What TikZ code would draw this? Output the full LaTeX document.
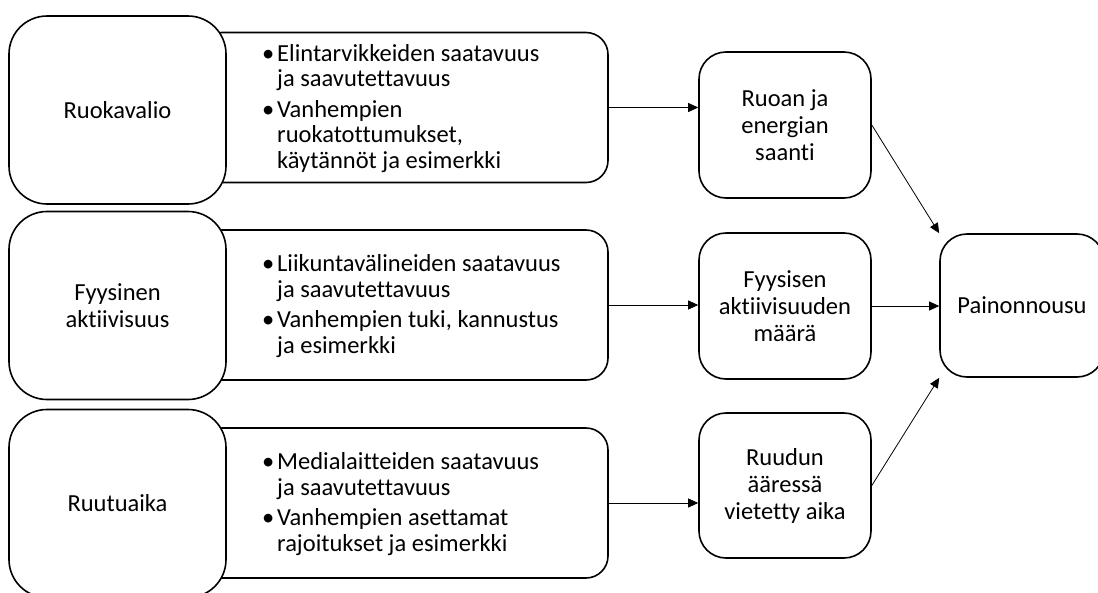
\documentclass[tikz,border=0pt]{standalone}
\usepackage{fontspec}
\setmainfont{Carlito}[Ligatures={NoCommon}]
\usetikzlibrary{arrows.meta}
\begin{document}
\begin{tikzpicture}[x=1pt,y=-1pt,
  txt/.style={font=\fontsize{24.5}{27}\selectfont},
  btxt/.style={font=\fontsize{24.5}{25.5}\selectfont, align=left, inner sep=0pt, anchor=west},
  leftbox/.style={txt, draw, fill=white, line width=1.6pt, rounded corners=38pt,
    minimum width=217, minimum height=188, align=center},
  bulbox/.style={draw, fill=white, line width=1.6pt, rounded corners=22pt,
    minimum width=408, minimum height=150},
  midbox/.style={txt, draw, fill=white, line width=1.6pt, rounded corners=27pt,
    minimum width=172, minimum height=146, align=center},
  arr/.style={line width=0.8pt, -{Triangle[length=10pt,width=9pt]}}]
\useasboundingbox (0,0) rectangle (1098,592);
\clip (0,0) rectangle (1098,592);
\newcommand{\bu}{\llap{\makebox[18pt][c]{•}}}
% bullet boxes (drawn first, left part hidden)
\node[bulbox] (b1) at (404,107.5) {};
\node[bulbox] (b2) at (404,305) {};
\node[bulbox] (b3) at (404,503) {};
% left boxes
\node[leftbox] (l1) at (117.5,110) {Ruokavalio};
\node[leftbox] (l2) at (117.5,305.5) {Fyysinen\\aktiivisuus};
\node[leftbox] (l3) at (117.5,503.5) {Ruutuaika};
% bullet texts
\node[btxt] (t1) at (277,108.5) {\bu Elintarvikkeiden saatavuus\\ja saavutettavuus\\[5pt]\bu Vanhempien\\ruokatottumukset,\\käytännöt ja esimerkki};
\node[btxt] (t2) at (277,306) {\bu Liikuntavälineiden saatavuus\\ja saavutettavuus\\[5pt]\bu Vanhempien tuki, kannustus\\ja esimerkki};
\node[btxt] (t3) at (277,504) {\bu Medialaitteiden saatavuus\\ja saavutettavuus\\[5pt]\bu Vanhempien asettamat\\rajoitukset ja esimerkki};
% middle boxes
\node[midbox] (mA) at (785,125) {Ruoan ja\\energian\\saanti};
\node[midbox] (mB) at (785,306) {Fyysisen\\aktiivisuuden\\määrä};
\node[midbox, minimum height=145] (mC) at (785,485.5) {Ruudun\\ääressä\\vietetty aika};
% result box
\node[txt, draw, fill=white, line width=1.6pt, rounded corners=27pt,
  minimum width=164, minimum height=143] (P) at (1022,305.5) {Painonnousu};
% arrows
\draw[arr] (b1.east) -- (b1.east -| mA.west);
\draw[arr] (b2.east) -- (b2.east -| mB.west);
\draw[arr] (b3.east) -- (b3.east -| mC.west);
\draw[arr] (mA.east) -- (P.north west);
\draw[arr] (mB.east) -- (P.west |- mB.east);
\draw[arr] (mC.east) -- (P.south west);
\end{tikzpicture}
\end{document}
